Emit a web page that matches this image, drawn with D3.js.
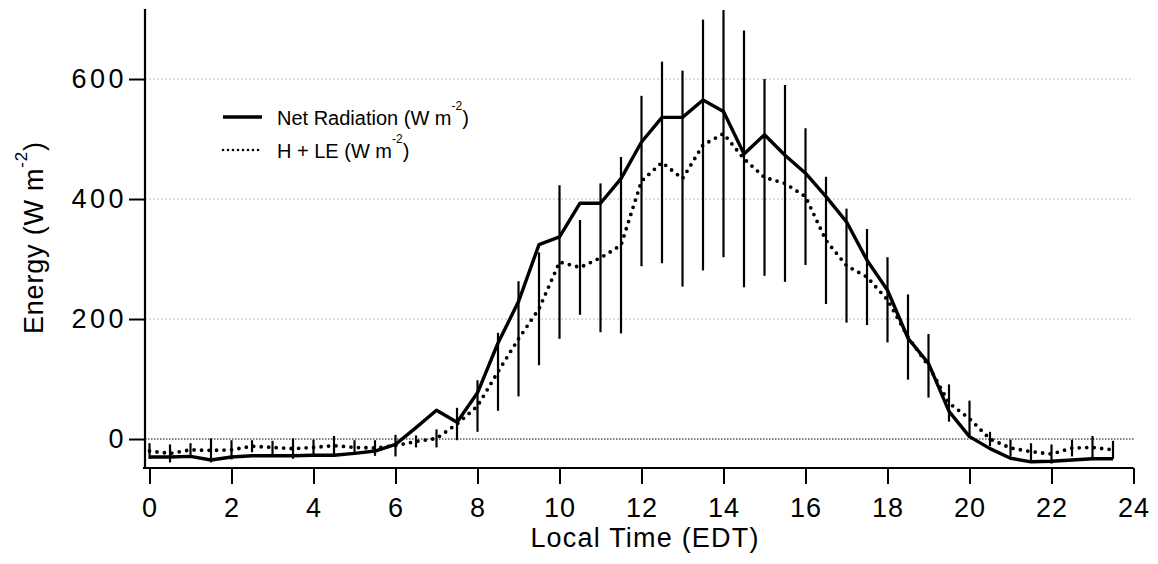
<!DOCTYPE html>
<html>
<head>
<meta charset="utf-8">
<script src="https://cdn.jsdelivr.net/npm/d3@7"></script>
<style>
  body { margin: 0; background: #fff; }
  text { font-family: Arial, "Liberation Sans", sans-serif; fill: #000; }
</style>
</head>
<body>
<div id="chart"></div>
<script>
// half-hourly means (local time)
var hours = [0, 0.5, 1, 1.5, 2, 2.5, 3, 3.5, 4, 4.5, 5, 5.5, 6, 6.5, 7, 7.5, 8, 8.5, 9, 9.5,
    10, 10.5, 11, 11.5, 12, 12.5, 13, 13.5, 14, 14.5, 15, 15.5, 16, 16.5, 17, 17.5, 18, 18.5, 19, 19.5,
    20, 20.5, 21, 21.5, 22, 22.5, 23, 23.5]
var netRad = [-30, -30, -29, -35, -30, -28, -28, -28, -27, -27, -24, -20, -9, 19, 48, 28, 77, 160, 229, 324,
    337, 393, 393, 434, 495, 536, 536, 565, 546, 475, 507, 473, 443, 404, 362, 298, 248, 168, 126, 46,
    4, -16, -32, -38, -37, -35, -33, -33]
var hle = [-20, -24, -18, -19, -18, -12, -14, -16, -14, -11, -14, -15, -11, -4, 1, 25, 55, 112, 167, 217,
    295, 286, 302, 323, 430, 461, 434, 490, 509, 467, 436, 426, 404, 331, 289, 270, 232, 170, 122, 60,
    34, 0, -15, -21, -25, -15, -14, -18]
var hleSd = [13, 15, 11, 20, 16, 10, 11, 17, 13, 16, 12, 13, 18, 10, 15, 27, 43, 65, 96, 94,
    128, 79, 124, 147, 142, 168, 180, 209, 206, 214, 164, 164, 114, 106, 95, 80, 71, 71, 53, 31,
    30, 12, 14, 14, 16, 14, 19, 15]
var xTicks = [0, 2, 4, 6, 8, 10, 12, 14, 16, 18, 20, 22, 24]
var yTicks = [0, 200, 400, 600]
var seriesNames = ["Net Radiation", "H + LE"]

var width = 1158, height = 564
var svg = d3.select("#chart").append("svg")
    .attr("width", width)
    .attr("height", height)

var x = d3.scaleLinear().domain([-0.11, 24]).range([145, 1133.5])
var y = d3.scaleLinear().domain([-48.3, 716.7]).range([468, 9])

// grid
svg.selectAll(".grid")
    .data(yTicks.filter(d => d != 0))
    .enter().append("line")
    .attr("x1", x.range()[0]).attr("x2", x(24))
    .attr("y1", d => y(d)).attr("y2", d => y(d))
    .attr("stroke", "#bdbdbd")
    .attr("stroke-width", 1)
    .attr("stroke-dasharray", "2,2")

// zero line
svg.append("line")
    .attr("x1", x.range()[0]).attr("x2", x(24))
    .attr("y1", y(0)).attr("y2", y(0))
    .attr("stroke", "#000")
    .attr("stroke-width", 1)
    .attr("stroke-dasharray", "1.5,1.5")

// error bars on H + LE
svg.selectAll(".err")
    .data(hours)
    .enter().append("line")
    .attr("x1", d => x(d)).attr("x2", d => x(d))
    .attr("y1", (d, i) => y(hle[i] - hleSd[i]))
    .attr("y2", (d, i) => y(Math.min(hle[i] + hleSd[i], 716.7)))
    .attr("stroke", "#000")
    .attr("stroke-width", 2.2)

var line = d3.line().x(d => x(d[0])).y(d => y(d[1]))

svg.append("path")
    .datum(hours.map((h, i) => [h, hle[i]]))
    .attr("d", line)
    .attr("fill", "none")
    .attr("stroke", "#000")
    .attr("stroke-width", 3.8)
    .attr("stroke-linecap", "round")
    .attr("stroke-dasharray", "0,7.5")

svg.append("path")
    .datum(hours.map((h, i) => [h, netRad[i]]))
    .attr("d", line)
    .attr("fill", "none")
    .attr("stroke", "#000")
    .attr("stroke-width", 3.4)
    .attr("stroke-linejoin", "round")

// axes
var xAxis = svg.append("g")
    .attr("transform", `translate(0,468)`)
    .call(d3.axisBottom(x).tickValues(xTicks).tickSize(16).tickPadding(14).tickSizeOuter(0))
xAxis.select(".domain").attr("stroke-width", 2.2).attr("d", `M143,0H${x(24)}`)
xAxis.selectAll(".tick line").attr("stroke-width", 2)
xAxis.selectAll(".tick text").style("font-size", "27px").attr("letter-spacing", "1px")

var yAxis = svg.append("g")
    .attr("transform", `translate(145,0)`)
    .call(d3.axisLeft(y).tickValues(yTicks).tickSize(16).tickPadding(2).tickSizeOuter(0))
yAxis.select(".domain").attr("stroke-width", 2.2).attr("d", `M0,9V469`)
yAxis.selectAll(".tick line").attr("stroke-width", 2)
yAxis.selectAll(".tick text").style("font-size", "27px").attr("letter-spacing", "3.5px")

// axis titles
svg.append("text")
    .attr("x", 645).attr("y", 547)
    .attr("text-anchor", "middle")
    .style("font-size", "27px")
    .attr("letter-spacing", "1.2px")
    .text("Local Time (EDT)")

var yt = svg.append("text")
    .attr("transform", "translate(43,334) rotate(-90)")
    .style("font-size", "27px")
    .attr("letter-spacing", "0.8px")
yt.append("tspan").text("Energy (W m")
yt.append("tspan").attr("dy", -16).style("font-size", "17px").text("-2")
yt.append("tspan").attr("dy", 16).text(")")

// legend
var legend = svg.append("g").attr("transform", "translate(223,117)")
var rows = legend.selectAll("g")
    .data(seriesNames)
    .enter().append("g")
    .attr("transform", (d, i) => `translate(0,${i * 33})`)
rows.append("line")
    .attr("x1", 0).attr("x2", 39)
    .attr("stroke", "#000")
    .attr("stroke-width", (d, i) => i == 0 ? 3.4 : 2.6)
    .attr("stroke-linecap", (d, i) => i == 0 ? "butt" : "round")
    .attr("stroke-dasharray", (d, i) => i == 0 ? null : "0,5")
var lt = rows.append("text")
    .attr("x", 54).attr("y", 8)
    .style("font-size", "20px")
lt.append("tspan").text(d => d + " (W m")
lt.append("tspan").attr("dy", -15).style("font-size", "12px").text("-2")
lt.append("tspan").attr("dy", 15).text(")")
</script>
</body>
</html>
